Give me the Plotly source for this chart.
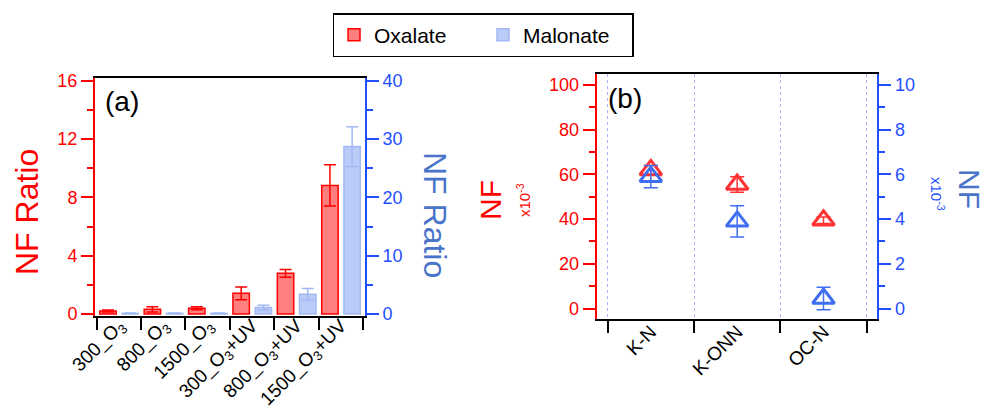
import plotly.graph_objects as go

# ---------------- data ----------------
conditions = ["300_O<sub>3</sub>", "800_O<sub>3</sub>", "1500_O<sub>3</sub>",
              "300_O<sub>3</sub>+UV", "800_O<sub>3</sub>+UV", "1500_O<sub>3</sub>+UV"]
oxalate_ratio = [0.2, 0.32, 0.39, 1.42, 2.79, 8.82]
oxalate_ratio_err = [0.07, 0.18, 0.1, 0.44, 0.27, 1.42]
malonate_ratio = [0.1, 0.1, 0.1, 1.1, 3.37, 28.7]
malonate_ratio_err = [0.05, 0.05, 0.05, 0.4, 1.0, 3.4]

groups = ["K-N", "K-ONN", "OC-N"]
oxalate_nf = [62.0, 55.5, 39.5]          # x10^-3
oxalate_nf_err = [2.0, 3.5, 1.5]
malonate_nf = [5.9, 3.9, 0.45]           # x10^-3
malonate_nf_err = [0.5, 0.7, 0.5]

# ---------------- style ----------------
FONT = "Liberation Sans, Arial, sans-serif"
RED = "#ff0000"
BLUE = "#1f4fff"
STEEL = "#4a74c9"
OX_FILL = "rgba(255,0,0,0.5)"
MA_FILL = "#bacbf7"
MA_LINE = "#a2b9f4"
W, H = 985, 413

def px(x):
    return x / W

def py(y):
    return 1 - y / H

fig = go.Figure()

xa = list(range(len(conditions)))
fig.add_trace(go.Bar(
    x=xa, y=oxalate_ratio, name="Oxalate", xaxis="x", yaxis="y",
    width=0.37, offset=-0.43,
    marker=dict(color=OX_FILL, line=dict(color=RED, width=1.5)),
    error_y=dict(type="data", array=oxalate_ratio_err, color=RED, thickness=1.5, width=6),
))
fig.add_trace(go.Bar(
    x=xa, y=malonate_ratio, name="Malonate", xaxis="x", yaxis="y2",
    width=0.37, offset=0.07,
    marker=dict(color=MA_FILL, line=dict(color=MA_LINE, width=1.5)),
    error_y=dict(type="data", array=malonate_ratio_err, color=MA_LINE, thickness=1.5, width=6),
))

xb = list(range(len(groups)))
fig.add_trace(go.Scatter(
    x=xb, y=oxalate_nf, mode="markers", xaxis="x2", yaxis="y3", showlegend=False,
    marker=dict(symbol="triangle-up-open", size=19, color="#ff3333", line=dict(width=3, color="#ff3333")),
    error_y=dict(type="data", array=oxalate_nf_err, color="#ff3333", thickness=1.5, width=7),
))
fig.add_trace(go.Scatter(
    x=xb, y=malonate_nf, mode="markers", xaxis="x2", yaxis="y4", showlegend=False,
    marker=dict(symbol="triangle-up-open", size=19, color="#3f6ff0", line=dict(width=3, color="#3f6ff0")),
    error_y=dict(type="data", array=malonate_nf_err, color="#3f6ff0", thickness=1.5, width=7),
))

# panel (a) geometry
ax_l, ax_r, ay_t, ay_b = 95, 365, 78, 316
# panel (b) geometry
bx_l, bx_r, by_t, by_b = 596.7, 877.3, 74, 319.3

fig.update_layout(
    width=W, height=H,
    margin=dict(l=0, r=0, t=0, b=0, autoexpand=False),
    paper_bgcolor="white", plot_bgcolor="white",
    font=dict(family=FONT, size=18, color="black"),
    showlegend=True,
    legend=dict(orientation="h", x=px(483), xanchor="center", y=py(13), yanchor="top",
                bordercolor="black", borderwidth=1.5, font=dict(family=FONT, size=21),
                entrywidth=104, itemwidth=30, bgcolor="white"),
    xaxis=dict(domain=[px(ax_l), px(ax_r)], anchor="y", range=[-0.538, 5.545], automargin=False,
               tickmode="array", tickvals=xa, ticktext=conditions, tickangle=-45,
               ticks="", ticklabelstandoff=-11,
               tickfont=dict(family=FONT, size=19, color="black"),
               showline=True, linecolor="black", linewidth=2, mirror=True,
               showgrid=False, zeroline=False,
               minor=dict(tick0=0.5, dtick=1, ticks="outside", ticklen=12, tickwidth=2,
                          tickcolor="black", showgrid=False)),
    yaxis=dict(domain=[py(ay_b), py(ay_t)], anchor="x", range=[-0.137, 16.185], automargin=False,
               tickmode="linear", tick0=0, dtick=4, ticks="outside", ticklen=12, tickwidth=2,
               tickcolor=RED, tickfont=dict(family=FONT, size=18, color=RED),
               showline=True, linecolor=RED, linewidth=2, showgrid=False, zeroline=False,
               minor=dict(tick0=0, dtick=2, ticks="outside", ticklen=6, tickwidth=2,
                          tickcolor=RED, showgrid=False)),
    yaxis2=dict(overlaying="y", side="right", anchor="x", range=[-0.343, 40.46], automargin=False,
                tickmode="linear", tick0=0, dtick=10, ticks="outside", ticklen=12, tickwidth=2,
                tickcolor=BLUE, tickfont=dict(family=FONT, size=18, color=BLUE),
                showline=True, linecolor=BLUE, linewidth=2, showgrid=False, zeroline=False,
                minor=dict(tick0=0, dtick=5, ticks="outside", ticklen=6, tickwidth=2,
                           tickcolor=BLUE, showgrid=False)),
    xaxis2=dict(domain=[px(bx_l), px(bx_r)], anchor="y3", range=[-0.627, 2.623], automargin=False,
                tickmode="array", tickvals=xb, ticktext=groups, tickangle=-45,
                ticks="", ticklabelstandoff=-8,
                tickfont=dict(family=FONT, size=19, color="black"),
                showline=True, linecolor="black", linewidth=2, mirror=True,
                showgrid=False, zeroline=False,
                minor=dict(tick0=0.5, dtick=1, ticks="outside", ticklen=12, tickwidth=2,
                           tickcolor="black", showgrid=True, gridcolor="#aab3ff",
                           griddash="dot", gridwidth=1)),
    yaxis3=dict(domain=[py(by_b), py(by_t)], anchor="x2", range=[-4.8, 104.9], automargin=False,
                tickmode="linear", tick0=0, dtick=20, ticks="outside", ticklen=12, tickwidth=2,
                tickcolor=RED, tickfont=dict(family=FONT, size=18, color=RED),
                showline=True, linecolor=RED, linewidth=2, showgrid=False, zeroline=False,
                minor=dict(tick0=0, dtick=10, ticks="outside", ticklen=6, tickwidth=2,
                           tickcolor=RED, showgrid=False)),
    yaxis4=dict(overlaying="y3", side="right", anchor="x2", range=[-0.48, 10.49], automargin=False,
                tickmode="linear", tick0=0, dtick=2, ticks="outside", ticklen=12, tickwidth=2,
                tickcolor=BLUE, tickfont=dict(family=FONT, size=18, color=BLUE),
                showline=True, linecolor=BLUE, linewidth=2, showgrid=False, zeroline=False,
                minor=dict(tick0=0, dtick=1, ticks="outside", ticklen=6, tickwidth=2,
                           tickcolor=BLUE, showgrid=False)),
)

def ann(text, x, y, size, color, angle=0):
    fig.add_annotation(text=text, x=px(x), y=py(y), xref="paper", yref="paper",
                       xanchor="center", yanchor="middle", showarrow=False, textangle=angle,
                       font=dict(family=FONT, size=size, color=color))

ann("NF Ratio", 27, 212, 32, RED, -90)
ann("NF Ratio", 435, 215, 32, STEEL, 90)
ann("(a)", 122, 101, 28, "black")
ann("(b)", 625, 98, 28, "black")
ann("NF", 491, 200, 30, RED, -90)
ann("x10<sup>-3</sup>", 524, 200, 15, RED, -90)
ann("NF", 970, 189, 30, STEEL, 90)
ann("x10<sup>-3</sup>", 938, 194, 15, BLUE, 90)

fig.write_html("out.html", config={"displayModeBar": False},
               post_script="document.body.style.margin='0px';document.body.style.overflow='hidden';")
